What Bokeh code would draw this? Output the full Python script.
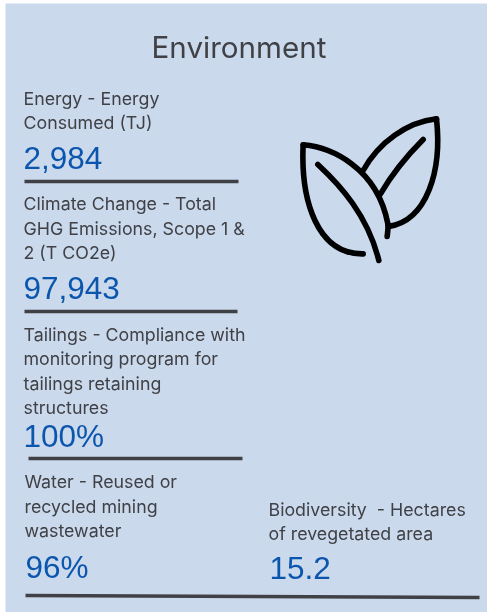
from bokeh.plotting import figure
from bokeh.embed import file_html
from bokeh.resources import INLINE
from bokeh.core.properties import value

title = "Environment"
energy_label = ["Energy - Energy", "Consumed (TJ)"]
energy_value = "2,984"
climate_label = ["Climate Change - Total", "GHG Emissions, Scope 1 &", "2 (T CO2e)"]
climate_value = "97,943"
tailings_label = ["Tailings - Compliance with", "monitoring program for", "tailings retaining", "structures"]
tailings_value = "100%"
water_label = ["Water - Reused or", "recycled mining", "wastewater"]
water_value = "96%"
bio_label = ["Biodiversity\u00a0 - Hectares", "of revegetated area"]
bio_value = "15.2"

BG = "#cbd9ec"
INK = "#3f4146"
BLUE = "#0b55ad"
LABEL_FONT = "Inter"
NUM_FONT = "Liberation Sans"
LABEL_SIZE = 17.8
NUM_SIZE = 31.5
TITLE_SIZE = 29.6
SHIFT = 0.41

p = figure(width=487, height=612, x_range=(0, 487), y_range=(612, 0),
           output_backend="svg", toolbar_location=None, min_border=0,
           background_fill_color="white", border_fill_color="white", outline_line_color=None)
p.axis.visible = False
p.grid.visible = False
p.styles = {"position": "fixed", "left": "0px", "top": "0px"}

p.quad(left=[5], right=[487], top=[3], bottom=[612], fill_color=BG, line_color=None)

def label(lines, x, ys):
    p.text(x=[x] * len(lines), y=[v - SHIFT * LABEL_SIZE for v in ys], text=lines,
           text_font=value(LABEL_FONT), text_font_size=f"{LABEL_SIZE}px",
           text_color=INK, text_baseline="alphabetic", text_align="left")

def number(txt, x, y):
    p.text(x=[x], y=[y - SHIFT * NUM_SIZE], text=[txt], text_font=value(NUM_FONT),
           text_font_size=f"{NUM_SIZE}px",
           text_color=BLUE, text_baseline="alphabetic", text_align="left")

p.text(x=[238.5], y=[59 - SHIFT * TITLE_SIZE], text=[title], text_font=value(LABEL_FONT),
       text_font_size=f"{TITLE_SIZE}px",
       text_color=INK, text_align="center", text_baseline="alphabetic")

label(energy_label, 23, [105, 129])
number(energy_value, 23, 170)
label(climate_label, 23, [210, 235, 259])
number(climate_value, 23, 300)
label(tailings_label, 23, [341, 365, 390, 414])
number(tailings_value, 23, 448)
label(water_label, 24, [488, 513, 537])
number(water_value, 25, 579)
label(bio_label, 268, [516, 540])
number(bio_value, 269, 580)

for x0, x1, y0, y1 in [(24, 238, 181, 181), (24, 237, 311, 311), (28, 242, 458, 458), (25, 479, 595, 597)]:
    p.line([x0, x1], [y0, y1], line_color=INK, line_width=3.6)

# leaf icon, cubic segments in zoom-crop units
def z(a, b):
    return 280 + a / 3, 100 + b / 3

segs = [
    ((68, 133), (150, 140), (290, 200), (322, 370)),
    ((322, 370), (324, 385), (321, 395), (320, 408)),
    ((68, 133), (60, 300), (110, 462), (248, 460)),
    ((112, 192), (180, 255), (262, 345), (295, 480)),
    ((248, 210), (295, 125), (380, 65), (468, 55)),
    ((468, 55), (485, 210), (440, 360), (325, 378)),
    ((428, 117), (380, 165), (335, 220), (300, 280)),
]
xs = {k: [] for k in ("x0", "y0", "x1", "y1", "cx0", "cy0", "cx1", "cy1")}
for a, c0, c1, b in segs:
    for (nx, ny), pt in zip((("x0", "y0"), ("cx0", "cy0"), ("cx1", "cy1"), ("x1", "y1")), (a, c0, c1, b)):
        px, py = z(*pt)
        xs[nx].append(px)
        xs[ny].append(py)
p.bezier(line_color="black", line_width=5.6, line_cap="round", **xs)

open("out.html", "w").write(file_html(p, INLINE))
